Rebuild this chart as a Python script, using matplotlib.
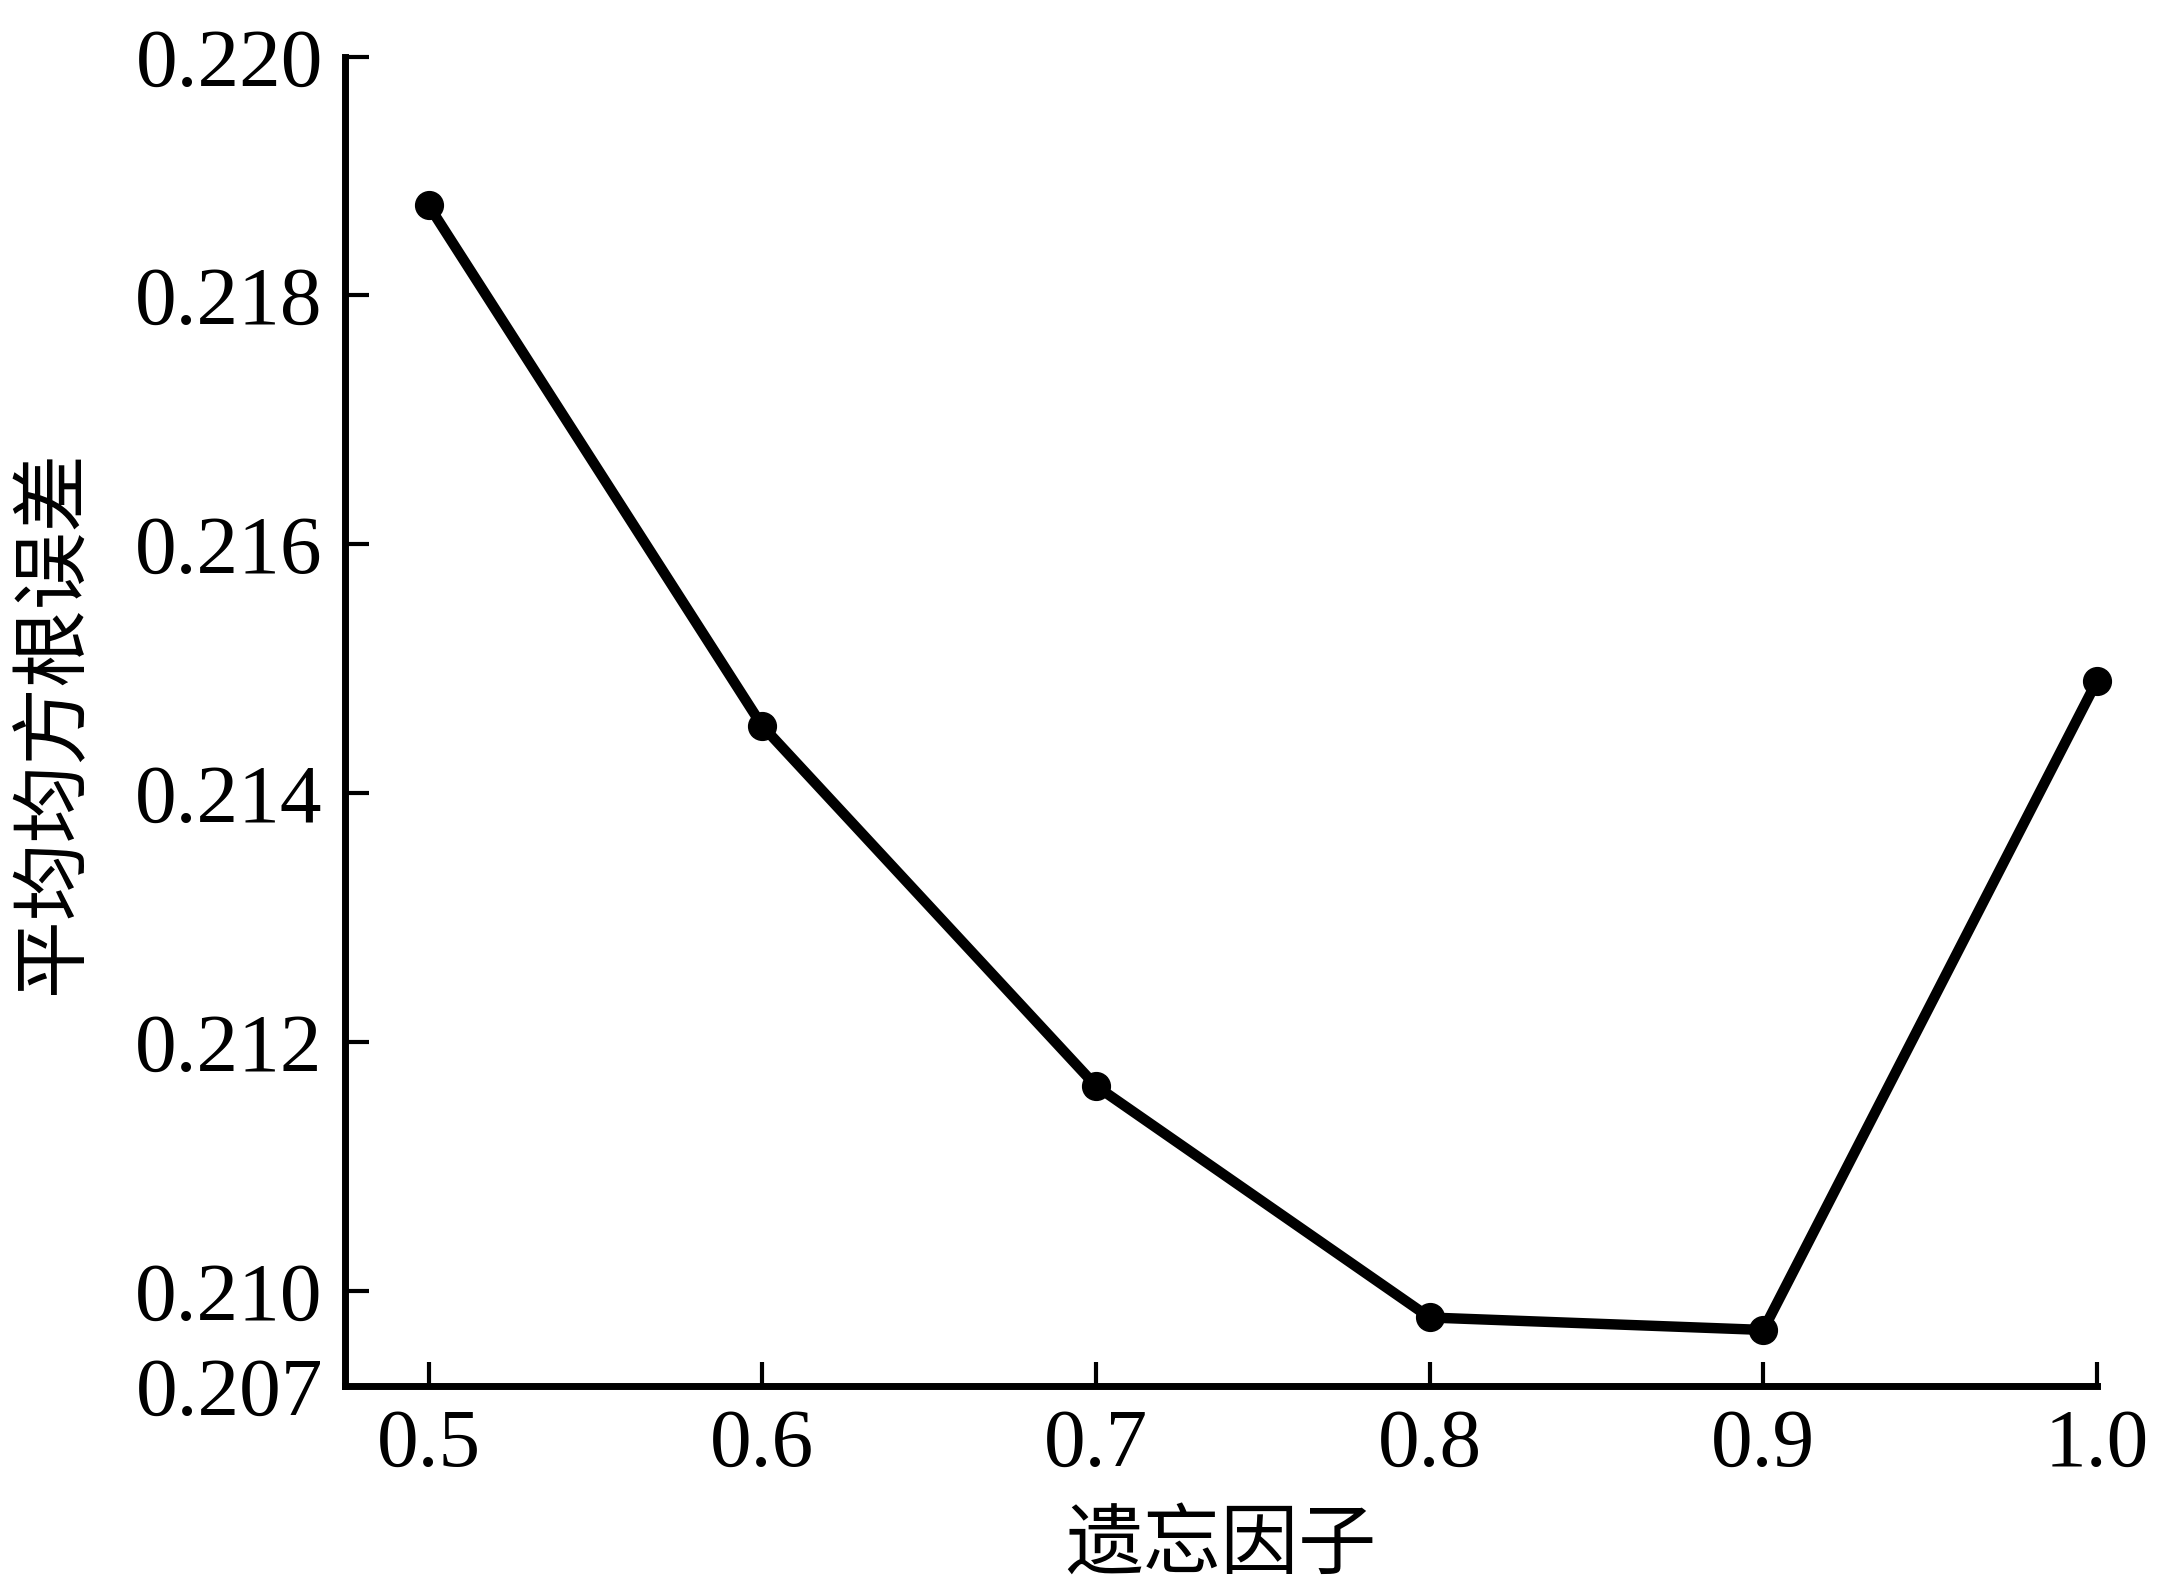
import matplotlib
matplotlib.use("Agg")
import matplotlib.pyplot as plt

forgetting_factor = [0.5, 0.6, 0.7, 0.8, 0.9, 1.0]
rmse = [0.21872, 0.21454, 0.21165, 0.20979, 0.20969, 0.21490]
x_ticks = [0.5, 0.6, 0.7, 0.8, 0.9, 1.0]
x_tick_labels = ["0.5", "0.6", "0.7", "0.8", "0.9", "1.0"]
y_ticks = [0.20924, 0.210, 0.212, 0.214, 0.216, 0.218, 0.21991]
y_tick_labels = ["0.207", "0.210", "0.212", "0.214", "0.216", "0.218", "0.220"]
x_label = "遗忘因子"
y_label = "平均均方根误差"

plt.rcParams['font.family'] = ['Liberation Serif', 'Noto Sans CJK SC']

fig = plt.figure(figsize=(21.8, 15.92), dpi=100)
ax = fig.add_axes([0.1583, 0.1294, 0.8036, 0.8348])

ax.plot(forgetting_factor, rmse, color='black', linewidth=7.5,
        marker='o', markersize=20, clip_on=False, solid_joinstyle='round')

ax.set_xlim(0.475, 1.0)
ax.set_ylim(0.20924, 0.21991)
ax.set_xticks(x_ticks)
ax.set_xticklabels(x_tick_labels)
ax.set_yticks(y_ticks)
ax.set_yticklabels(y_tick_labels)

for s in ['top', 'right']:
    ax.spines[s].set_visible(False)
for s in ['left', 'bottom']:
    ax.spines[s].set_linewidth(5)

ax.tick_params(axis='both', direction='in', length=17, width=3, labelsize=60, pad=16)

cjk = ['Noto Sans CJK SC', 'Liberation Serif']
ax.set_xlabel(x_label, fontsize=56, family=cjk, labelpad=16)
ax.set_ylabel(y_label, fontsize=56, family=cjk, labelpad=30)

fig.savefig("out.png", dpi=100)
